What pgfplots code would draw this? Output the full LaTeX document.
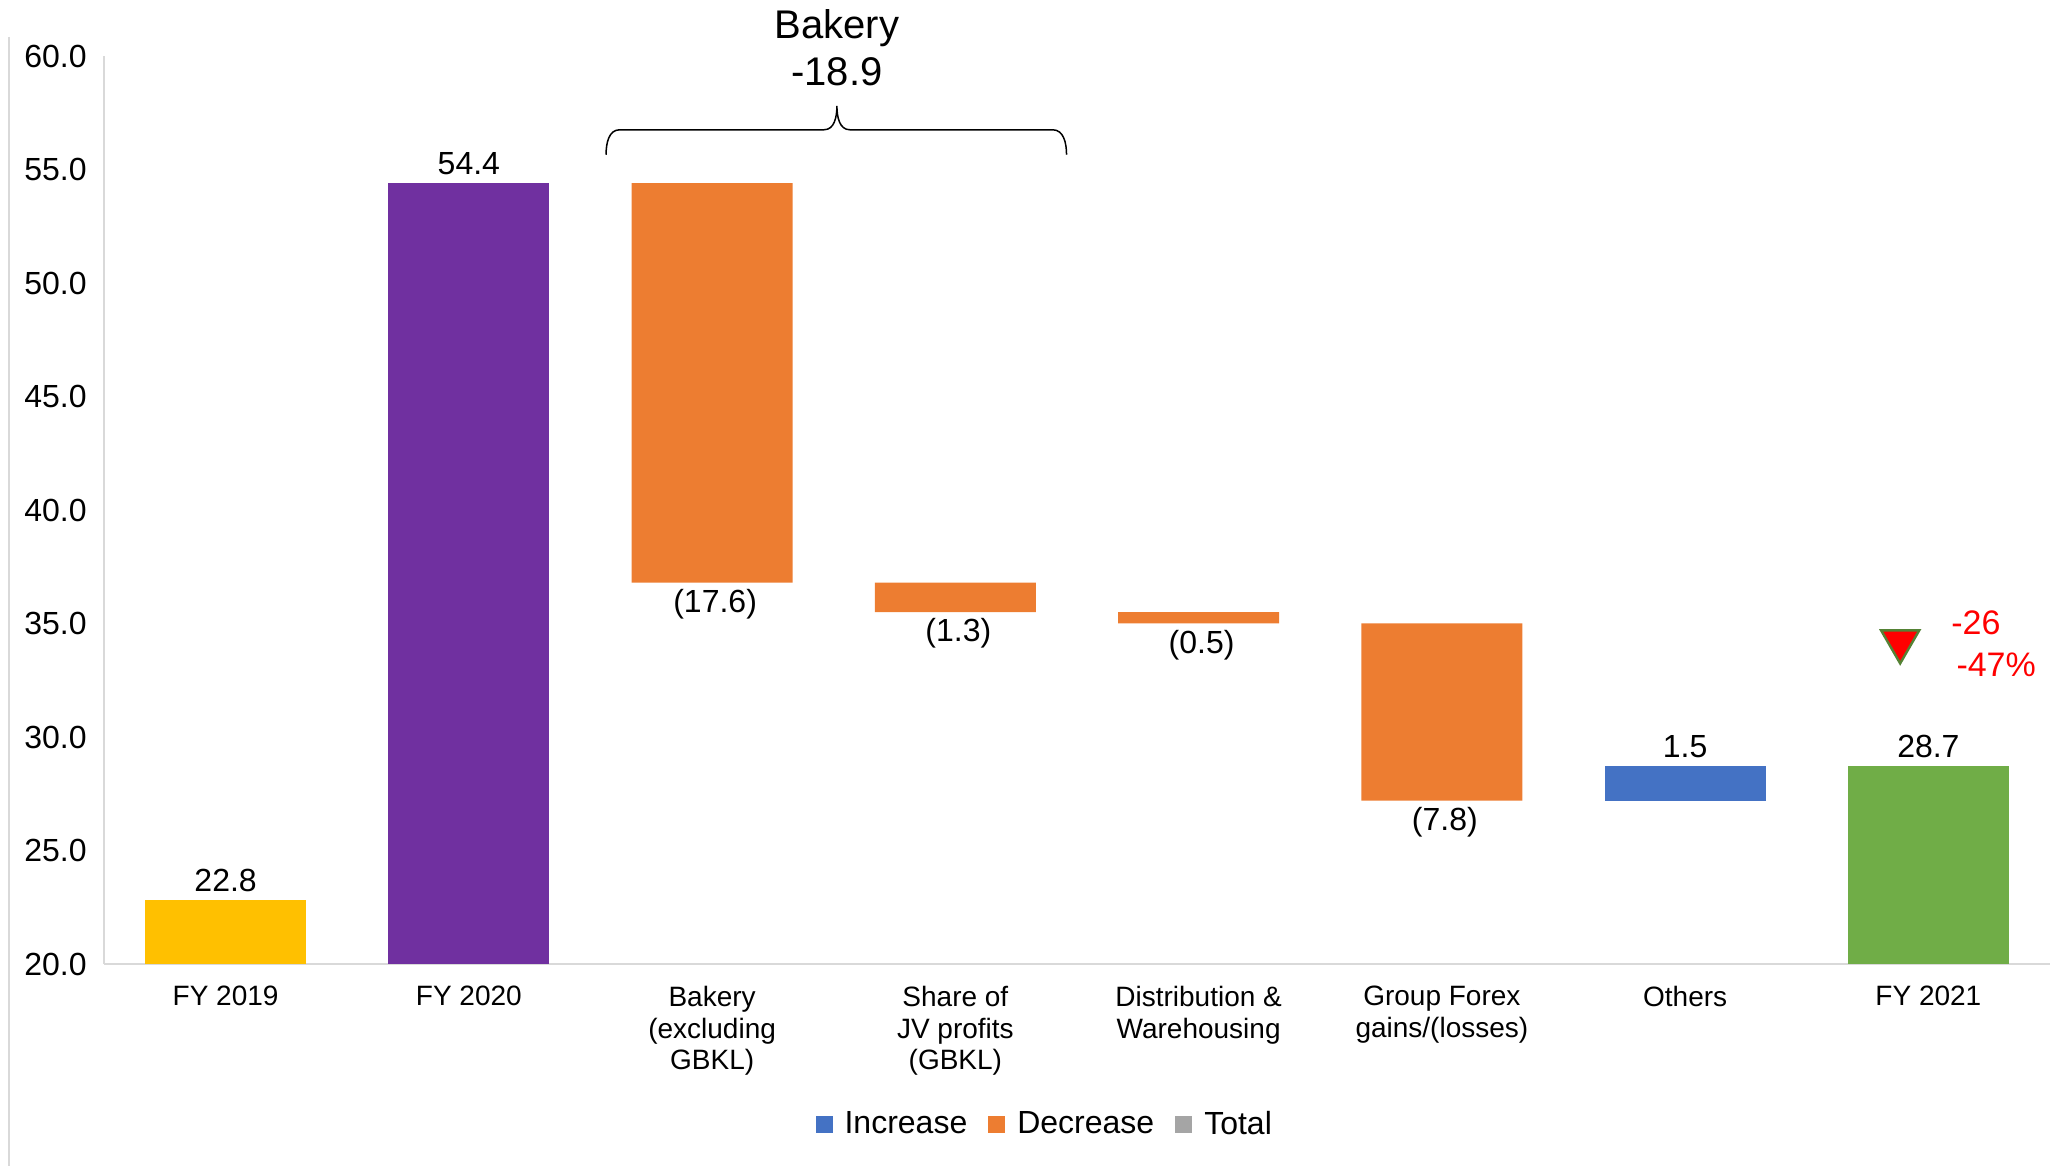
\documentclass[border=0pt]{standalone}
\usepackage{fontspec}
\setmainfont{Liberation Sans}
\usepackage{pgfplots}
\usepackage{pgfplotstable}
\pgfplotsset{compat=1.18}

\definecolor{incBlue}{HTML}{4472C4}
\definecolor{decOrange}{HTML}{ED7D31}
\definecolor{totGray}{HTML}{A5A5A5}
\definecolor{fyYellow}{HTML}{FFC000}
\definecolor{fyPurple}{HTML}{7030A0}
\definecolor{fyGreen}{HTML}{70AD47}
\definecolor{lineGray}{HTML}{D9D9D9}
\definecolor{markGreen}{HTML}{548235}

% Profit bridge FY 2020 -> FY 2021: invisible base plus one column per colour
\pgfplotstableread{
x base fy19 fy20 dec  inc fy21
0 0    22.8 0    0    0   0
1 0    0    54.4 0    0   0
2 36.8 0    0    17.6 0   0
3 35.5 0    0    1.3  0   0
4 35.0 0    0    0.5  0   0
5 27.2 0    0    7.8  0   0
6 27.2 0    0    0    1.5 0
7 0    0    0    0    0   28.7
}\bridge

\pgfplotsset{
  bridgeframe/.style={
    scale only axis, width=973pt, height=454pt,
    xmin=-0.5, xmax=7.5, ymin=20, ymax=60,
    at={(0,0)}, anchor=south west,
  },
}

\begin{document}
\begin{tikzpicture}
\path[use as bounding box] (-52pt,-101pt) rectangle (976.5pt,482pt);

\begin{axis}[
  bridgeframe,
  ybar stacked, bar width=0.662,
  axis lines*=left,
  axis line style={draw=lineGray, line width=1pt},
  major tick length=0pt,
  ytick={20,25,...,60},
  yticklabel style={font=\fontsize{16}{16}\selectfont, inner sep=0pt, xshift=-8.5pt,
    /pgf/number format/.cd, fixed, fixed zerofill, precision=1, assume math mode=true},
  xtick={0,...,7},
  xticklabels={FY 2019, FY 2020, {Bakery\\(excluding\\GBKL)}, {Share of\\JV profits\\(GBKL)},
    {Distribution \&\\Warehousing}, {Group Forex\\gains/(losses)}, Others, FY 2021},
  xticklabel style={font=\fontsize{14}{15.7}\selectfont, align=center, inner sep=0pt,
    anchor=north, yshift=-11pt},
]
\addplot [fill=none, draw=none] table [x=x, y=base] {\bridge};
\addplot [fill=fyYellow, draw=none] table [x=x, y=fy19] {\bridge};
\addplot [fill=fyPurple, draw=none] table [x=x, y=fy20] {\bridge};
\addplot [fill=decOrange, draw=none] table [x=x, y=dec] {\bridge};
\addplot [fill=incBlue, draw=none] table [x=x, y=inc] {\bridge};
\addplot [fill=fyGreen, draw=none] table [x=x, y=fy21] {\bridge};
\end{axis}

\begin{axis}[
  bridgeframe,
  axis lines=none, clip=false,
  legend image code/.code={\fill[#1, draw=none] (0pt,-4.25pt) rectangle (8.5pt,4.25pt);},
  legend style={draw=none, fill=none, at={(0.4829,-0.1763)}, anchor=center,
    legend columns=-1, font=\fontsize{16}{16}\selectfont,
    nodes={inner sep=0pt},
    /tikz/every odd column/.append style={column sep=6pt},
    /tikz/every even column/.append style={column sep=10.5pt}},
]
\addlegendimage{fill=incBlue}
\addlegendentry{Increase}
\addlegendimage{fill=decOrange}
\addlegendentry{Decrease}
\addlegendimage{fill=totGray}
\addlegendentry{Total}

% values above the tops of the totals and the increase
\addplot [draw=none, forget plot, nodes near coords, point meta=explicit symbolic,
  nodes near coords style={anchor=south, inner sep=0pt, yshift=4pt, text=black,
    font=\fontsize{16}{16}\selectfont}]
  coordinates {(0,22.8) [22.8] (1,54.4) [54.4] (6,28.7) [1.5] (7,28.7) [28.7]};
% values below the bottoms of the decreases
\addplot [draw=none, forget plot, nodes near coords, point meta=explicit symbolic,
  nodes near coords style={anchor=north, inner sep=0pt, yshift=-3pt, xshift=1.5pt,
    text=black, font=\fontsize{16}{16}\selectfont}]
  coordinates {(2,36.8) [(17.6)] (3,35.5) [(1.3)] (4,35.0) [(0.5)] (5,27.2) [(7.8)]};

% change marker for FY 2021
\addplot [forget plot, only marks, mark=triangle*, mark size=11pt,
  mark options={rotate=180, fill=red, draw=markGreen, line width=1.2pt}]
  coordinates {(6.884,34.21)};
\node [anchor=base west, inner sep=0pt, text=red, font=\fontsize{17}{17}\selectfont]
  at (axis cs:7.093,34.51) {-26};
\node [anchor=base west, inner sep=0pt, text=red, font=\fontsize{17}{17}\selectfont]
  at (axis cs:7.114,32.66) {-47\%};

% brace grouping the two bakery items
\draw [line width=0.75pt]
  (axis cs:1.564,55.65) to[out=90,in=180] (axis cs:1.62,56.75)
  -- (axis cs:2.46,56.75) to[out=0,in=-90] (axis cs:2.513,57.8)
  to[out=-90,in=180] (axis cs:2.566,56.75)
  -- (axis cs:3.40,56.75) to[out=0,in=90] (axis cs:3.457,55.65);
\node [anchor=base, inner sep=0pt, font=\fontsize{20}{20}\selectfont]
  at (axis cs:2.513,60.75) {Bakery};
\node [anchor=base, inner sep=0pt, font=\fontsize{20}{20}\selectfont]
  at (axis cs:2.513,58.68) {-18.9};
\end{axis}

\draw [lineGray, line width=1pt] (-47.5pt,463.6pt) -- (-47.5pt,-101pt);
\end{tikzpicture}
\end{document}
